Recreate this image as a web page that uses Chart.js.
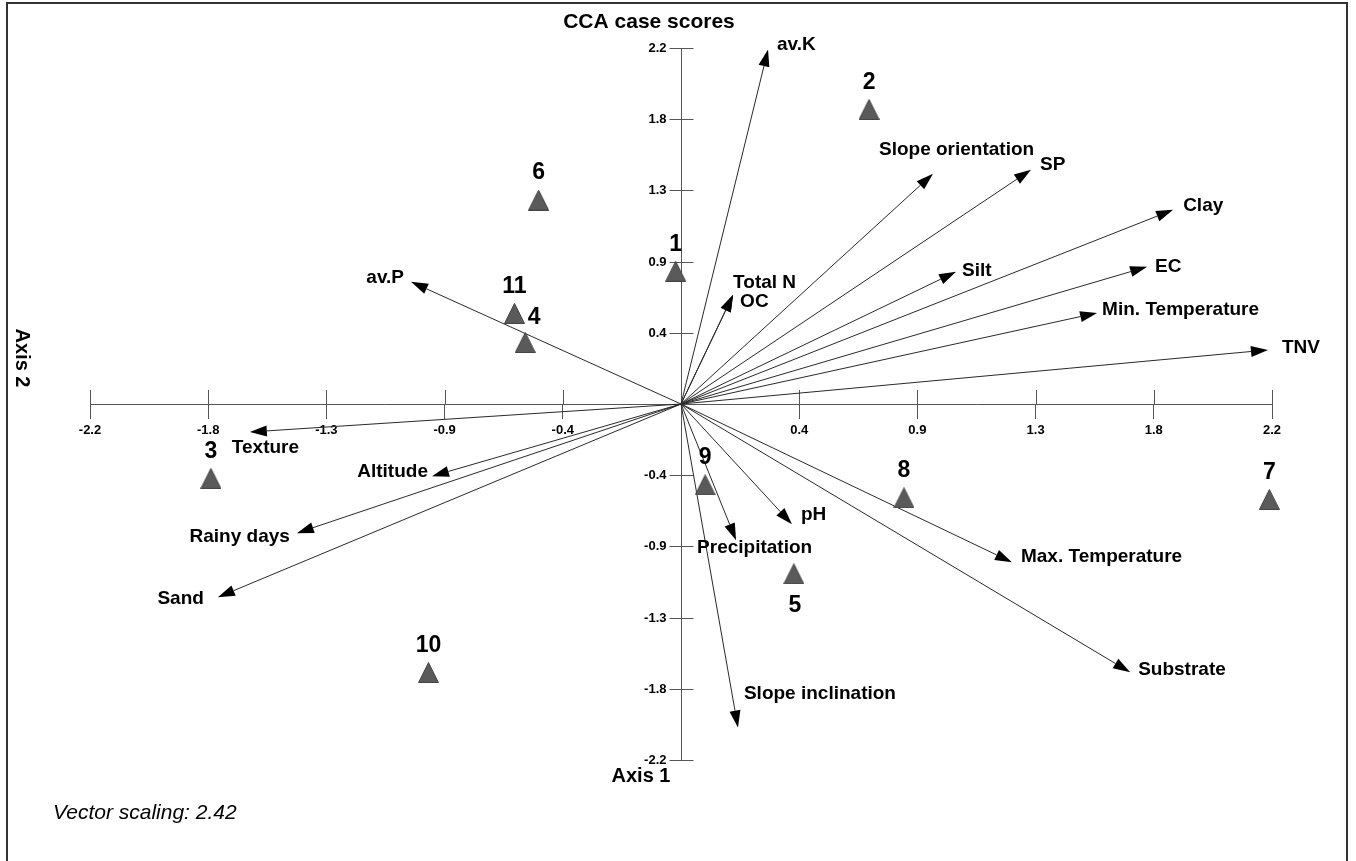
<!DOCTYPE html>
<html><head><meta charset="utf-8">
<script src="https://cdn.jsdelivr.net/npm/chart.js@4.4.1/dist/chart.umd.min.js"></script>
<style>html,body{margin:0;padding:0;background:#fff;} #wrap{width:1356px;height:861px;position:relative;}</style>
</head><body><div id="wrap"><canvas id="c" width="1356" height="861"></canvas></div>
<script>
// ---- data ----
const siteNames = ['1','2','3','4','5','6','7','8','9','10','11'];
const siteAxis1 = [-0.02, 0.70, -1.75, -0.58, 0.42, -0.53, 2.19, 0.83, 0.09, -0.94, -0.62];
const siteAxis2 = [0.82, 1.82, -0.46, 0.38, -1.05, 1.26, -0.59, -0.58, -0.50, -1.66, 0.56];

const varNames = ['av.K','Slope orientation','SP','Clay','Silt','EC','Min. Temperature','TNV','Total N','OC','av.P','Texture','Altitude','Rainy days','Sand','Precipitation','pH','Slope inclination','Max. Temperature','Substrate'];
const varAxis1 = [0.324,0.938,1.303,1.832,1.024,1.735,1.549,2.185,0.194,0.194,-1.005,-1.605,-0.927,-1.430,-1.724,0.205,0.413,0.212,1.232,1.672];
const varAxis2 = [2.191,1.423,1.448,1.200,0.817,0.848,0.563,0.334,0.675,0.675,0.755,-0.173,-0.446,-0.798,-1.194,-0.842,-0.743,-1.999,-0.978,-1.658];

const axisTicks = [-2.2,-1.76,-1.32,-0.88,-0.44,0,0.44,0.88,1.32,1.76,2.2];
const axisTickLabels = ['-2.2','-1.8','-1.3','-0.9','-0.4','','0.4','0.9','1.3','1.8','2.2'];

// ---- label layout (pixel offsets from the point) ----
const varLabelLayout = {
  'av.K':[9,-5,'left'], 'Slope orientation':[-54,-24,'left'], 'SP':[9,-5,'left'], 'Clay':[10,-4,'left'],
  'Silt':[6,-1,'left'], 'EC':[8,0,'left'], 'Min. Temperature':[5,-3,'left'], 'TNV':[14,-2,'left'],
  'Total N':[0,-12,'left'], 'OC':[7,7,'left'], 'av.P':[-7,-4,'right'], 'Texture':[-18,16,'left'],
  'Altitude':[-4,-4,'right'], 'Rainy days':[-7,4,'right'], 'Sand':[-14,2,'right'],
  'Precipitation':[-39,8,'left'], 'pH':[9,-9,'left'], 'Slope inclination':[6,-34,'left'],
  'Max. Temperature':[9,-5,'left'], 'Substrate':[8,-3,'left']
};
const siteLabelLayout = {'4':[9,-25], '5':[1,32]};

const FONT = '"Liberation Sans", Arial, sans-serif';

// triangle marker
const tri = document.createElement('canvas');
tri.width = 21; tri.height = 21;
(function(){
  const t = tri.getContext('2d');
  t.fillStyle = '#5a5a5a'; t.strokeStyle = '#444';
  t.beginPath(); t.moveTo(10.5, 0.5); t.lineTo(20.5, 20.5); t.lineTo(0.5, 20.5); t.closePath();
  t.fill(); t.stroke();
})();

function drawArrow(ctx, x0, y0, x1, y1) {
  const a = Math.atan2(y1 - y0, x1 - x0);
  const L = 17, W = 5.5;
  const bx = x1 - L * Math.cos(a), by = y1 - L * Math.sin(a);
  ctx.beginPath(); ctx.moveTo(x0, y0); ctx.lineTo(bx, by); ctx.stroke();
  ctx.beginPath(); ctx.moveTo(x1, y1);
  ctx.lineTo(bx + W * Math.sin(a), by - W * Math.cos(a));
  ctx.lineTo(bx - W * Math.sin(a), by + W * Math.cos(a));
  ctx.closePath(); ctx.fill();
}

const biplot = {
  id: 'biplot',
  beforeDraw(chart) {
    const ctx = chart.ctx;
    ctx.save();
    ctx.fillStyle = '#fff'; ctx.fillRect(0, 0, chart.width, chart.height);
    ctx.strokeStyle = '#333'; ctx.lineWidth = 2;
    ctx.beginPath();
    ctx.moveTo(7, 861); ctx.lineTo(7, 3); ctx.lineTo(1347, 3); ctx.lineTo(1347, 861);
    ctx.stroke();
    ctx.fillStyle = '#000';
    ctx.textAlign = 'center'; ctx.textBaseline = 'middle';
    ctx.font = 'bold 21px ' + FONT;
    ctx.fillText('CCA case scores', 649, 22);
    ctx.font = 'bold 20px ' + FONT;
    ctx.fillText('Axis 1', 641, 776);
    ctx.save(); ctx.translate(22, 358); ctx.rotate(Math.PI / 2);
    ctx.fillText('Axis 2', 0, 0); ctx.restore();
    ctx.textAlign = 'left';
    ctx.font = 'italic 21px ' + FONT;
    ctx.fillText('Vector scaling: 2.42', 53, 813);
    ctx.restore();
  },
  beforeDatasetsDraw(chart) {
    const ctx = chart.ctx, xs = chart.scales.x, ys = chart.scales.y;
    const ox = xs.getPixelForValue(0), oy = ys.getPixelForValue(0);
    ctx.save();
    // tick marks crossing the axes, y tick labels
    ctx.strokeStyle = '#555'; ctx.lineWidth = 1;
    ctx.font = 'bold 13px ' + FONT; ctx.fillStyle = '#000';
    ctx.textAlign = 'right'; ctx.textBaseline = 'middle';
    const oxr = Math.round(ox) + 0.5;
    axisTicks.forEach((v, i) => {
      if (v === 0) return;
      const px = Math.round(xs.getPixelForValue(v)) + 0.5;
      ctx.beginPath(); ctx.moveTo(px, oy - 14); ctx.lineTo(px, oy); ctx.stroke();
      const py = Math.round(ys.getPixelForValue(v)) + 0.5;
      ctx.beginPath(); ctx.moveTo(oxr - 12, py); ctx.lineTo(oxr + 12, py); ctx.stroke();
      ctx.fillText(axisTickLabels[i], oxr - 15, py);
    });
    // vectors
    const meta = chart.getDatasetMeta(1);
    ctx.strokeStyle = '#2a2a2a'; ctx.fillStyle = '#000'; ctx.lineWidth = 1;
    meta.data.forEach(pt => drawArrow(ctx, ox, oy, pt.x, pt.y));
    ctx.font = 'bold 19px ' + FONT; ctx.textBaseline = 'middle'; ctx.fillStyle = '#000';
    meta.data.forEach((pt, i) => {
      const lay = varLabelLayout[varNames[i]] || [8, -4, 'left'];
      ctx.textAlign = lay[2];
      ctx.fillText(varNames[i], pt.x + lay[0], pt.y + lay[1]);
    });
    ctx.restore();
  },
  afterDatasetsDraw(chart) {
    const ctx = chart.ctx;
    const meta = chart.getDatasetMeta(0);
    ctx.save();
    ctx.font = 'bold 23px ' + FONT; ctx.textAlign = 'center'; ctx.textBaseline = 'middle'; ctx.fillStyle = '#000';
    meta.data.forEach((pt, i) => {
      const lay = siteLabelLayout[siteNames[i]] || [0, -27];
      ctx.fillText(siteNames[i], pt.x + lay[0], pt.y + lay[1]);
    });
    ctx.restore();
  }
};

const tickFont = {family: FONT, size: 13, weight: 'bold'};
const buildTicks = s => { s.ticks = axisTicks.map(v => ({value: v})); };

new Chart(document.getElementById('c'), {
  type: 'scatter',
  data: {
    datasets: [
      { label: 'Sites', data: siteAxis1.map((x, i) => ({x, y: siteAxis2[i]})),
        pointStyle: tri, pointRadius: 10, clip: false },
      { label: 'Variables', data: varAxis1.map((x, i) => ({x, y: varAxis2[i]})),
        pointRadius: 0, pointHoverRadius: 0, clip: false }
    ]
  },
  options: {
    responsive: false, animation: false, events: [],
    layout: { padding: { left: 90, right: 84, top: 48, bottom: 101 } },
    plugins: { legend: { display: false }, tooltip: { enabled: false } },
    scales: {
      x: {
        type: 'linear', min: -2.2, max: 2.2, position: {y: 0},
        afterBuildTicks: buildTicks,
        ticks: { autoSkip: false, maxRotation: 0, color: '#000', font: tickFont, padding: 5,
                 callback: (v) => axisTickLabels[axisTicks.indexOf(v)] },
        grid: { display: true, drawOnChartArea: false, drawTicks: true, tickLength: 14, color: '#555', lineWidth: 1 },
        border: { display: true, color: '#555', width: 1 }
      },
      y: {
        type: 'linear', min: -2.2, max: 2.2, position: {x: 0},
        afterBuildTicks: buildTicks,
        ticks: { display: false },
        grid: { display: false },
        border: { display: true, color: '#555', width: 1 }
      }
    }
  },
  plugins: [biplot]
});
</script></body></html>
